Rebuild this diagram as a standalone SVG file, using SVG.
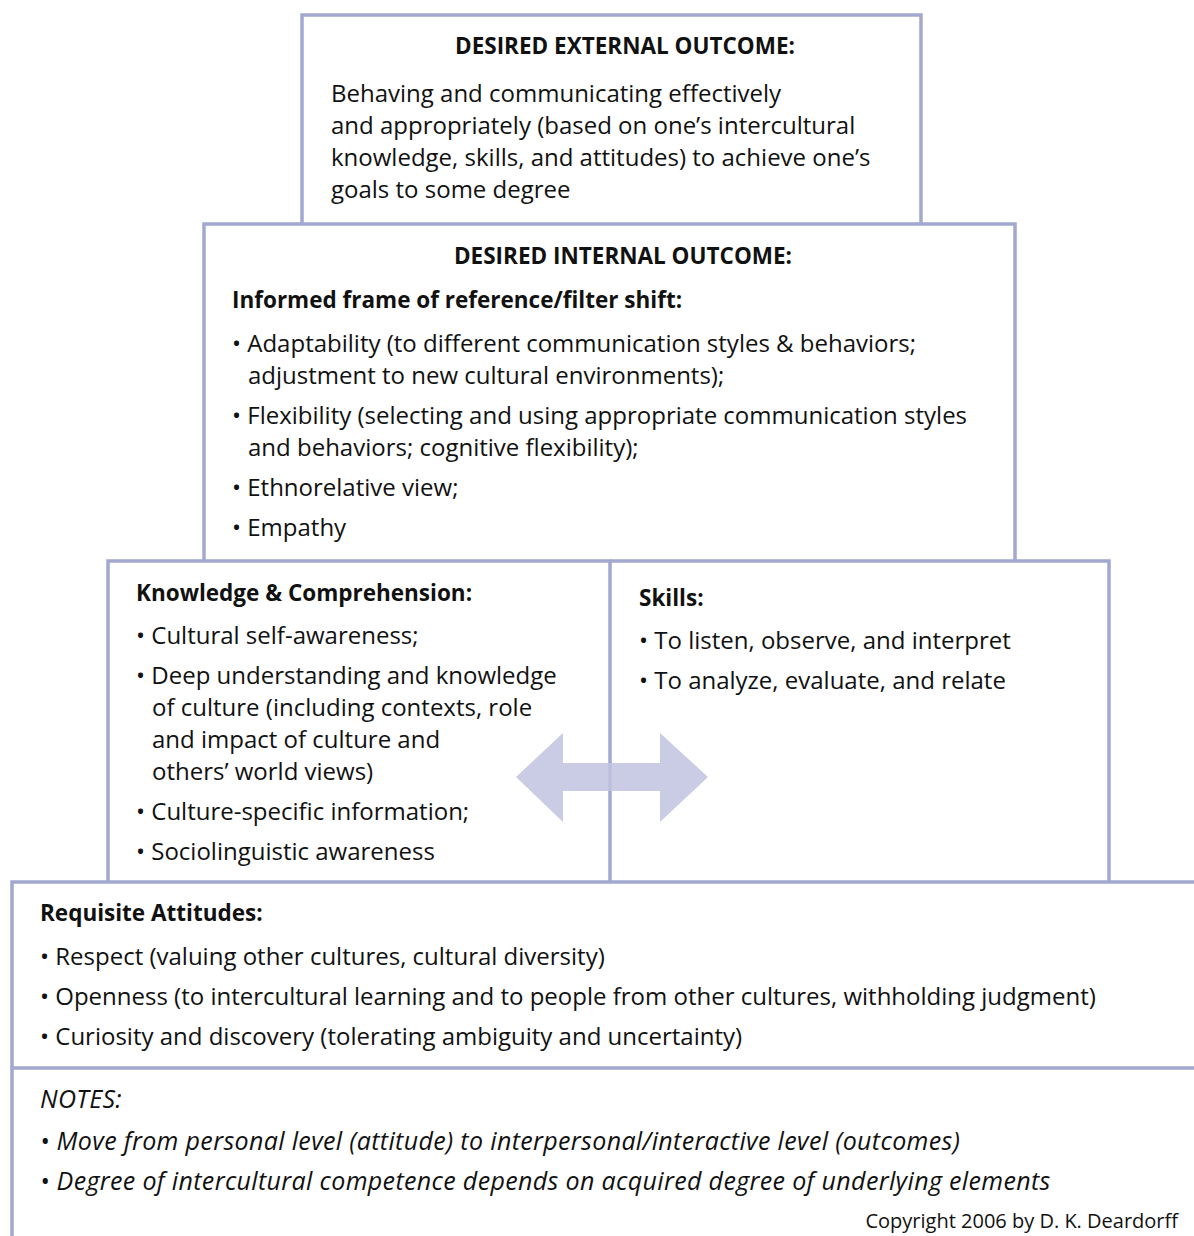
<svg xmlns="http://www.w3.org/2000/svg" width="1194" height="1236" viewBox="0 0 1194 1236">
<style>
.ln{fill:none;stroke:#a3a8d1;stroke-width:3.5}
text{font-family:"Open Sans","Liberation Sans",sans-serif;font-size:24px;fill:#111}
.h{font-weight:bold;font-size:22.5px}
.i{font-style:italic;font-size:25px;letter-spacing:0.35px}
.c{text-anchor:middle}
.sm{font-size:20px;text-anchor:end}
</style>
<rect width="1194" height="1236" fill="#fff"/>
<g id="external-outcome">
<path class="ln" d="M302,224 V15 H921 V224"/>
<text class="h c" x="625" y="54">DESIRED EXTERNAL OUTCOME:</text>
<text x="331" y="102">Behaving and communicating effectively</text>
<text x="331" y="134">and appropriately (based on one’s intercultural</text>
<text x="331" y="166">knowledge, skills, and attitudes) to achieve one’s</text>
<text x="331" y="198">goals to some degree</text>
</g>
<g id="internal-outcome">
<path class="ln" d="M204,561 V224 H1015 V561"/>
<text class="h c" x="623" y="264">DESIRED INTERNAL OUTCOME:</text>
<text class="h" x="232" y="308">Informed frame of reference/filter shift:</text>
<text x="232" y="352">• Adaptability (to different communication styles &amp; behaviors;</text>
<text x="248" y="384">adjustment to new cultural environments);</text>
<text x="232" y="424">• Flexibility (selecting and using appropriate communication styles</text>
<text x="248" y="456">and behaviors; cognitive flexibility);</text>
<text x="232" y="496">• Ethnorelative view;</text>
<text x="232" y="536">• Empathy</text>
</g>
<g id="knowledge">
<path class="ln" d="M108,882 V561 H610 V882"/>
<text class="h" x="136" y="601">Knowledge &amp; Comprehension:</text>
<text x="136" y="644">• Cultural self-awareness;</text>
<text x="136" y="684">• Deep understanding and knowledge</text>
<text x="152" y="716">of culture (including contexts, role</text>
<text x="152" y="748">and impact of culture and</text>
<text x="152" y="780">others’ world views)</text>
<text x="136" y="820">• Culture-specific information;</text>
<text x="136" y="860">• Sociolinguistic awareness</text>
</g>
<g id="skills">
<path class="ln" d="M610,561 H1109 V882"/>
<text class="h" x="639" y="606">Skills:</text>
<text x="639" y="649">• To listen, observe, and interpret</text>
<text x="639" y="689">• To analyze, evaluate, and relate</text>
</g>
<g id="connectors">
<path d="M516,777 L563,733 V763 H660 V733 L708,777 L660,822 V791 H563 V822 Z" fill="#c9cce4"/>
<line class="ln" x1="610" y1="763" x2="610" y2="791" stroke-opacity="0.35"/>
</g>
<g id="attitudes">
<path class="ln" d="M12,1068 V882 H1194"/>
<text class="h" x="40" y="921">Requisite Attitudes:</text>
<text x="40" y="965">• Respect (valuing other cultures, cultural diversity)</text>
<text x="40" y="1005">• Openness (to intercultural learning and to people from other cultures, withholding judgment)</text>
<text x="40" y="1045">• Curiosity and discovery (tolerating ambiguity and uncertainty)</text>
</g>
<g id="notes">
<path class="ln" d="M12,1236 V1068 H1194"/>
<text class="i" x="40" y="1108">NOTES:</text>
<text class="i" x="40" y="1150">• Move from personal level (attitude) to interpersonal/interactive level (outcomes)</text>
<text class="i" x="40" y="1190">• Degree of intercultural competence depends on acquired degree of underlying elements</text>
<text class="sm" x="1178" y="1228">Copyright 2006 by D. K. Deardorff</text>
</g>
</svg>
